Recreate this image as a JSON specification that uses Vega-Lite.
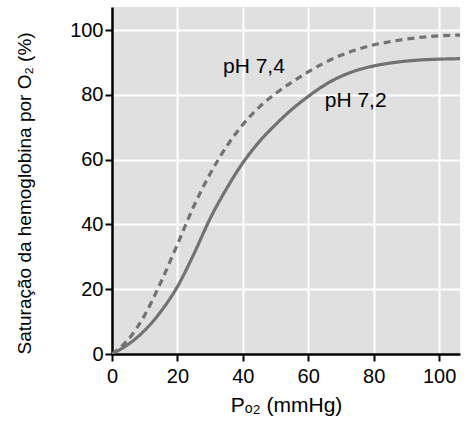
{
  "$schema": "https://vega.github.io/schema/vega-lite/v6.json",
  "width": 348,
  "height": 347,
  "autosize": "none",
  "padding": {"left": 112, "top": 7, "right": 12, "bottom": 79},
  "background": "white",
  "config": {
    "font": "Liberation Sans",
    "view": {"stroke": null, "fill": "#e0e0e0"},
    "axis": {
      "domainColor": "black",
      "domainWidth": 2.5,
      "tickColor": "black",
      "tickWidth": 2,
      "tickSize": 7,
      "gridColor": "white",
      "gridWidth": 2,
      "gridOpacity": 1,
      "labelColor": "black",
      "labelFontSize": 20,
      "labelFont": "Liberation Sans",
      "titleColor": "black",
      "titleFontWeight": "normal",
      "titleFont": "Liberation Sans"
    }
  },
  "datasets": {
    "curves": [
      {"po2": 0, "sat": 0, "ph": "7,4"},
      {"po2": 5, "sat": 4.5, "ph": "7,4"},
      {"po2": 10, "sat": 12, "ph": "7,4"},
      {"po2": 15, "sat": 22.3, "ph": "7,4"},
      {"po2": 20, "sat": 33.8, "ph": "7,4"},
      {"po2": 25, "sat": 45.6, "ph": "7,4"},
      {"po2": 30, "sat": 55.6, "ph": "7,4"},
      {"po2": 35, "sat": 64, "ph": "7,4"},
      {"po2": 40, "sat": 70.8, "ph": "7,4"},
      {"po2": 45, "sat": 76.2, "ph": "7,4"},
      {"po2": 50, "sat": 80.4, "ph": "7,4"},
      {"po2": 55, "sat": 83.9, "ph": "7,4"},
      {"po2": 60, "sat": 87.1, "ph": "7,4"},
      {"po2": 65, "sat": 89.9, "ph": "7,4"},
      {"po2": 70, "sat": 92.2, "ph": "7,4"},
      {"po2": 75, "sat": 94, "ph": "7,4"},
      {"po2": 80, "sat": 95.4, "ph": "7,4"},
      {"po2": 85, "sat": 96.4, "ph": "7,4"},
      {"po2": 90, "sat": 97.2, "ph": "7,4"},
      {"po2": 95, "sat": 97.8, "ph": "7,4"},
      {"po2": 100, "sat": 98.2, "ph": "7,4"},
      {"po2": 110, "sat": 98.5, "ph": "7,4"},
      {"po2": 0, "sat": 0, "ph": "7,2"},
      {"po2": 5, "sat": 3, "ph": "7,2"},
      {"po2": 10, "sat": 7.3, "ph": "7,2"},
      {"po2": 15, "sat": 13.2, "ph": "7,2"},
      {"po2": 20, "sat": 20.8, "ph": "7,2"},
      {"po2": 25, "sat": 30.8, "ph": "7,2"},
      {"po2": 30, "sat": 41.8, "ph": "7,2"},
      {"po2": 35, "sat": 51, "ph": "7,2"},
      {"po2": 40, "sat": 59, "ph": "7,2"},
      {"po2": 45, "sat": 65.5, "ph": "7,2"},
      {"po2": 50, "sat": 70.8, "ph": "7,2"},
      {"po2": 55, "sat": 75.5, "ph": "7,2"},
      {"po2": 60, "sat": 79.5, "ph": "7,2"},
      {"po2": 65, "sat": 83, "ph": "7,2"},
      {"po2": 70, "sat": 85.7, "ph": "7,2"},
      {"po2": 75, "sat": 87.6, "ph": "7,2"},
      {"po2": 80, "sat": 88.9, "ph": "7,2"},
      {"po2": 85, "sat": 89.8, "ph": "7,2"},
      {"po2": 90, "sat": 90.4, "ph": "7,2"},
      {"po2": 95, "sat": 90.8, "ph": "7,2"},
      {"po2": 100, "sat": 91, "ph": "7,2"},
      {"po2": 110, "sat": 91.2, "ph": "7,2"}
    ],
    "labels": [
      {"po2": 43.4, "sat": 88.6, "label": "pH 7,4"},
      {"po2": 74.5, "sat": 78, "label": "pH 7,2"}
    ]
  },
  "layer": [
    {
      "data": {"name": "curves"},
      "mark": {"type": "line", "color": "#727272", "strokeWidth": 3.2, "clip": true, "interpolate": "monotone"},
      "encoding": {
        "x": {
          "field": "po2", "type": "quantitative",
          "scale": {"domain": [0, 106.4], "nice": false, "zero": false},
          "axis": {"values": [0, 20, 40, 60, 80, 100], "title": "Pₒ₂ (mmHg)", "titleFontSize": 21, "titlePadding": 8, "labelPadding": 5, "labelFlush": false}
        },
        "y": {
          "field": "sat", "type": "quantitative",
          "scale": {"domain": [0, 107.1], "nice": false},
          "axis": {"values": [0, 20, 40, 60, 80, 100], "title": "Saturação da hemoglobina por O₂ (%)", "titleFontSize": 19, "titlePadding": 35, "titleAnchor": "start", "labelPadding": 2, "labelFlush": false}
        },
        "strokeDash": {
          "field": "ph", "type": "nominal",
          "scale": {"domain": ["7,4", "7,2"], "range": [[7, 5], [1, 0]]},
          "legend": null
        }
      }
    },
    {
      "data": {"name": "labels"},
      "mark": {"type": "text", "fontSize": 21, "color": "black", "font": "Liberation Sans", "baseline": "middle", "align": "center"},
      "encoding": {
        "x": {"field": "po2", "type": "quantitative"},
        "y": {"field": "sat", "type": "quantitative"},
        "text": {"field": "label"}
      }
    }
  ]
}
